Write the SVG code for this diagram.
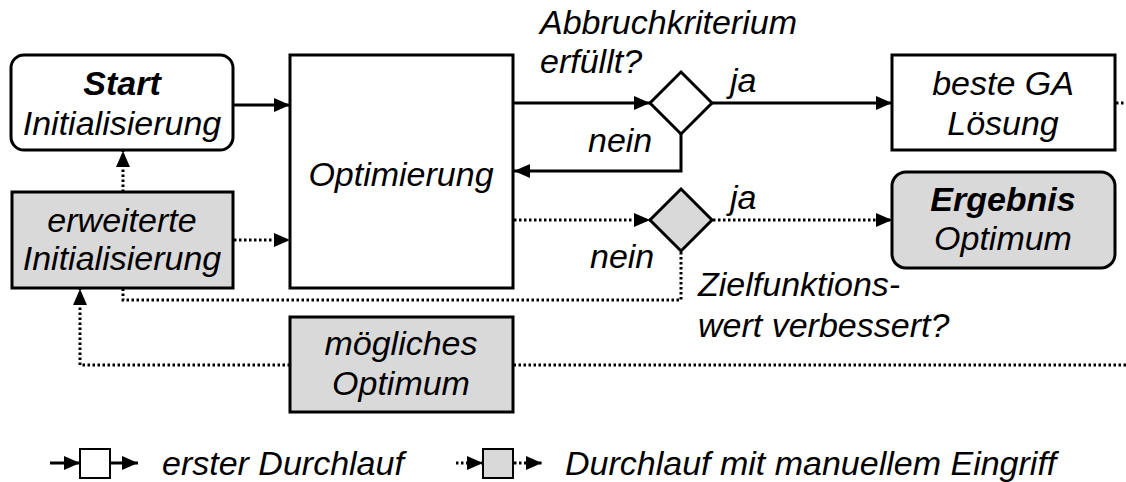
<svg xmlns="http://www.w3.org/2000/svg" width="1126" height="482" viewBox="0 0 1126 482">
<style>
text{font-family:"Liberation Sans",Arial,sans-serif;font-size:34px;font-style:italic;fill:#000}
.c{text-anchor:middle}
.b{font-weight:bold}
.box{stroke:#000;stroke-width:3;fill:#fff}
.g{fill:#d9d9d9}
.ln{stroke:#000;stroke-width:3;fill:none}
.dt{stroke:#000;stroke-width:3;fill:none;stroke-dasharray:2.5 2.5}
</style>
<defs>
<marker id="ah" markerUnits="userSpaceOnUse" markerWidth="18" markerHeight="18" viewBox="0 0 18 18" refX="16" refY="9" orient="auto">
<path d="M0,2 L16,9 L0,16 Z" fill="#000"/>
</marker>
</defs>
<g id="connectors">
<line class="ln" x1="233" y1="105" x2="290" y2="105" marker-end="url(#ah)"/>
<line class="dt" x1="234" y1="240" x2="290" y2="240" marker-end="url(#ah)"/>
<line class="dt" x1="123" y1="192" x2="123" y2="151" marker-end="url(#ah)"/>
<line class="ln" x1="513" y1="103" x2="650" y2="103" marker-end="url(#ah)"/>
<line class="ln" x1="712" y1="103" x2="892" y2="103" marker-end="url(#ah)"/>
<path class="ln" d="M681,134 V171 H514" marker-end="url(#ah)"/>
<line class="dt" x1="514" y1="220" x2="650" y2="220" marker-end="url(#ah)"/>
<line class="dt" x1="713" y1="220" x2="892" y2="220" marker-end="url(#ah)"/>
<path class="dt" d="M681,252 V300 H123 V289"/>
<line class="dt" x1="1116" y1="103" x2="1126" y2="103"/>
<line class="dt" x1="1126" y1="365" x2="514" y2="365"/>
<path class="dt" d="M290,365 H80 V289" marker-end="url(#ah)"/>
</g>
<g id="start">
<rect class="box" x="11" y="55" width="222" height="95" rx="13"/>
<text class="c b" x="122" y="95">Start</text>
<text class="c" x="122" y="135">Initialisierung</text>
</g>
<g id="erweiterte">
<rect class="box g" x="12" y="192" width="221" height="96"/>
<text class="c" x="122" y="232">erweiterte</text>
<text class="c" x="122" y="270">Initialisierung</text>
</g>
<g id="optimierung">
<rect class="box" x="290" y="55" width="223" height="233"/>
<text class="c" x="401" y="186">Optimierung</text>
</g>
<g id="abbruch">
<polygon class="box" points="681,72 712,103 681,134 650,103"/>
</g>
<g id="ziel">
<polygon class="box g" points="681,189 712,220 681,251 650,220"/>
</g>
<g id="beste">
<rect class="box" x="892" y="55" width="223" height="95"/>
<text class="c" x="1003" y="95">beste GA</text>
<text class="c" x="1003" y="135">Lösung</text>
</g>
<g id="ergebnis">
<rect class="box g" x="892" y="172" width="223" height="96" rx="14"/>
<text class="c b" x="1003" y="211">Ergebnis</text>
<text class="c" x="1003" y="250">Optimum</text>
</g>
<g id="moeglich">
<rect class="box g" x="290" y="317" width="223" height="95"/>
<text class="c" x="401" y="355">mögliches</text>
<text class="c" x="401" y="395">Optimum</text>
</g>
<g id="labels">
<text x="540" y="34">Abbruchkriterium</text>
<text x="540" y="73">erfüllt?</text>
<text x="730" y="92">ja</text>
<text x="588" y="152">nein</text>
<text x="730" y="209">ja</text>
<text x="590" y="268">nein</text>
<text x="698" y="296">Zielfunktions-</text>
<text x="698" y="337">wert verbessert?</text>
</g>
<g id="legend">
<line class="ln" x1="50" y1="463" x2="80" y2="463" marker-end="url(#ah)"/>
<rect class="box" x="80" y="449" width="30" height="29" style="stroke-width:2"/>
<line class="ln" x1="110" y1="463" x2="138" y2="463" marker-end="url(#ah)"/>
<text x="162" y="475">erster Durchlauf</text>
<line class="dt" x1="456" y1="463" x2="483" y2="463" marker-end="url(#ah)"/>
<rect class="box g" x="483" y="449" width="30" height="29" style="stroke-width:2"/>
<line class="dt" x1="514" y1="463" x2="542" y2="463" marker-end="url(#ah)"/>
<text x="565" y="475">Durchlauf mit manuellem Eingriff</text>
</g>
</svg>
